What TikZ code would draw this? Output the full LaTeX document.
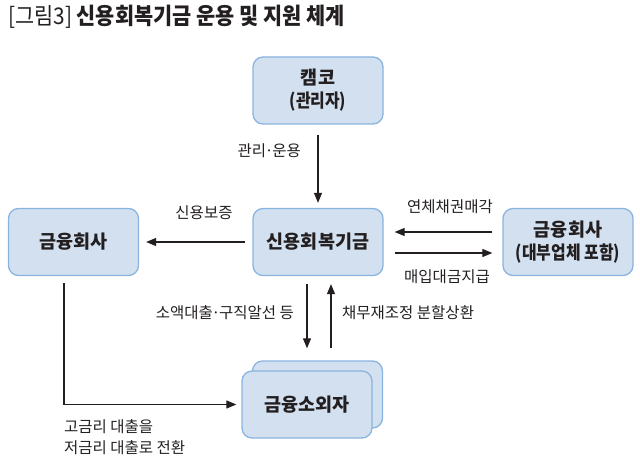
\documentclass[tikz,border=0pt]{standalone}
\usepackage{fontspec}
\setmainfont{Noto Sans CJK KR}
\usetikzlibrary{arrows.meta}
\definecolor{boxfill}{RGB}{210,224,239}
\definecolor{boxline}{RGB}{138,180,224}
\definecolor{ink}{RGB}{35,31,32}
\newcommand{\mdot}{\hbox to 0.4em{\hss·\hss}}
\newcommand{\narrowline}[1]{\scalebox{0.86}[1]{#1}}
\begin{document}
\begin{tikzpicture}[x=1pt,y=-1pt,
  box/.style={draw=boxline,fill=boxfill,line width=1.3pt,rounded corners=10pt,
    minimum width=130pt,minimum height=67pt,inner sep=0pt,align=center,
    font=\fontsize{18.5}{23}\selectfont\bfseries,text=ink},
  arr/.style={draw=ink,line width=1.1pt,-{Triangle[length=10pt,width=8pt]}},
  lab/.style={font=\fontsize{15.5}{21}\selectfont,text=ink,inner sep=0pt}]
\useasboundingbox (0,0) rectangle (640,470);
% title
\node[anchor=west,inner sep=0pt,text=ink] (title) at (8,17)
  {\scalebox{0.905}[1]{\fontsize{23}{25}\selectfont [그림3] \bfseries 신용회복기금 운용 및 지원 체계}};
% boxes
\node[box] (kamco) at (318,90.5) {캠코\\\narrowline{(관리자)}};
\node[box] (finL) at (73.5,242) {금융회사};
\node[box] (fund) at (318,242) {신용회복기금};
\node[box] (finR) at (568,242) {금융회사\\\narrowline{(대부업체 포함)}};
\node[box] (back) at (317.5,394.5) {};
\node[box] (front) at (307,404.5) {금융소외자};
% arrows
\draw[arr,shorten <=10pt,shorten >=5pt] (kamco.south) -- (fund.north);
\draw[arr,shorten <=7pt,shorten >=7pt] (fund.west) -- (finL.east);
\draw[arr,shorten <=10pt,shorten >=11pt] ([yshift=10pt]finR.west) -- ([yshift=10pt]fund.east);
\draw[arr,shorten <=11pt,shorten >=10pt] ([yshift=-11pt]fund.east) -- ([yshift=-11pt]finR.west);
\draw[arr,shorten <=8pt,shorten >=12pt] ([xshift=-11pt]fund.south) -- ([xshift=-11pt]fund.south |- back.north);
\draw[arr,shorten <=12pt,shorten >=8pt] ([xshift=13pt]fund.south |- back.north) -- ([xshift=13pt]fund.south);
\draw[arr,shorten >=5pt] ([xshift=-9.5pt,yshift=-7pt]finL.south) |- (front.west);
% labels
\node[lab,anchor=east] (l1) at (301,151) {관리\mdot 운용};
\node[lab] (l2) at (204,213) {신용보증};
\node[lab] (l3) at (450,207) {연체채권매각};
\node[lab] (l4) at (447,277) {매입대금지급};
\node[lab,anchor=east] (l5) at (294,313) {소액대출\mdot 구직알선 등};
\node[lab,anchor=west] (l6) at (342,313) {채무재조정 분할상환};
\node[lab,anchor=west,align=left] (l7) at (64,437.5) {고금리 대출을\\저금리 대출로 전환};
\end{tikzpicture}
\end{document}
